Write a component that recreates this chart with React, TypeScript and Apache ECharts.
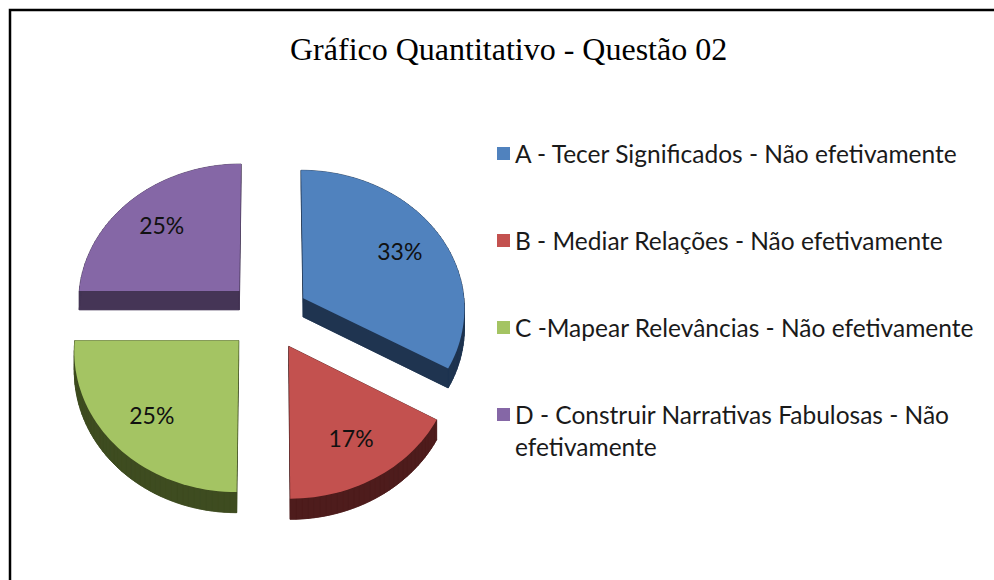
import React, { useEffect, useRef } from 'react';
import * as echarts from 'echarts';

// ---- data ----
const categories: string[] = [
  'A - Tecer Significados - Não efetivamente',
  'B - Mediar Relações - Não efetivamente',
  'C -Mapear Relevâncias - Não efetivamente',
  'D - Construir Narrativas Fabulosas - Não efetivamente',
];
const values: number[] = [4, 2, 3, 3];
const titleText = 'Gráfico Quantitativo - Questão 02';

// ---- styles ----
const topColors = ['#5082be', '#c3514f', '#a4c463', '#8567a6'];
const sideColors = ['#1f3450', '#4e1c1c', '#3e4c20', '#453556'];
const FONT = 'Lato, "Open Sans", sans-serif';

// ---- 3D pie geometry ----
const CX = 268;
const CY = 315.5;
const R = 162;
const K = 0.854;
const P = 0.0004;
const EXPLODE = 41;
const DEPTH = 19;
const LABEL_R = 116;

function project(u: number, v: number): [number, number, number] {
  const s = 1 / (1 + v * P);
  return [CX + u * s, CY - K * v * s, s];
}

const total = values.reduce((a, b) => a + b, 0);
const starts: number[] = [];
{
  let acc = 0;
  for (const v of values) {
    starts.push(acc);
    acc += v;
  }
}

function makeRenderItem(idx: number) {
  return (_params: any, api: any) => {
    const val = api.value(0) as number;
    const a0 = (starts[idx] / total) * Math.PI * 2;
    const a1 = a0 + (val / total) * Math.PI * 2;
    const mid = (a0 + a1) / 2;
    const ou = EXPLODE * Math.sin(mid);
    const ov = EXPLODE * Math.cos(mid);
    const pts3: [number, number][] = [[ou, ov]];
    const n = Math.max(8, Math.ceil(((a1 - a0) * 180) / Math.PI / 2));
    for (let j = 0; j <= n; j++) {
      const t = a0 + ((a1 - a0) * j) / n;
      pts3.push([ou + R * Math.sin(t), ov + R * Math.cos(t)]);
    }
    const top = pts3.map(([u, v]) => project(u, v));
    const bot = top.map(([x, y, s]) => [x, y + DEPTH * s]);
    const children: any[] = [];
    children.push({
      type: 'polygon',
      shape: { points: bot.map((p) => [p[0], p[1]]) },
      style: { fill: sideColors[idx], stroke: sideColors[idx], lineWidth: 0.6 },
      silent: true,
    });
    for (let j = 0; j < top.length; j++) {
      const k2 = (j + 1) % top.length;
      children.push({
        type: 'polygon',
        shape: {
          points: [
            [top[j][0], top[j][1]],
            [top[k2][0], top[k2][1]],
            [bot[k2][0], bot[k2][1]],
            [bot[j][0], bot[j][1]],
          ],
        },
        style: { fill: sideColors[idx], stroke: sideColors[idx], lineWidth: 0.6 },
        silent: true,
      });
    }
    children.push({
      type: 'polygon',
      shape: { points: top.map((p) => [p[0], p[1]]) },
      style: { fill: topColors[idx] },
      silent: true,
    });
    const [lx, ly] = project(ou + LABEL_R * Math.sin(mid), ov + LABEL_R * Math.cos(mid));
    children.push({
      type: 'text',
      x: lx,
      y: ly,
      style: {
        text: Math.round((val / total) * 100) + '%',
        fill: '#111111',
        fontSize: 23,
        fontFamily: FONT,
        align: 'center',
        verticalAlign: 'middle',
      },
      silent: true,
    });
    return { type: 'group', children };
  };
}

export default function App() {
  const ref = useRef<HTMLDivElement>(null);
  useEffect(() => {
    if (!ref.current) return;
    const chart = echarts.init(ref.current, undefined, { renderer: 'svg' });
    const legendText = { fontFamily: FONT, fontSize: 24.5, color: '#1a1a1a', lineHeight: 32 };
    chart.setOption({
      animation: false,
      backgroundColor: '#ffffff',
      title: {
        text: titleText,
        left: 290,
        top: 33,
        padding: 0,
        textStyle: {
          fontFamily: '"Liberation Serif", "Times New Roman", serif',
          fontSize: 32,
          fontWeight: 'normal',
          color: '#000000',
        },
      },
      legend: [
        {
          data: categories.slice(0, 3),
          orient: 'vertical',
          left: 497,
          top: 137.5,
          padding: 0,
          itemGap: 55,
          itemWidth: 13,
          itemHeight: 13,
          icon: 'rect',
          selectedMode: false,
          textStyle: legendText,
        },
        {
          data: categories.slice(3),
          orient: 'vertical',
          left: 497,
          top: 366.5,
          padding: 0,
          itemWidth: 13,
          itemHeight: 13,
          icon: 'rect',
          selectedMode: false,
          formatter: () =>
            '{e| }\n{t|D - Construir Narrativas Fabulosas - Não}\n{t|efetivamente}',
          textStyle: {
            ...legendText,
            rich: {
              e: { fontFamily: FONT, fontSize: 24.5, lineHeight: 32 },
              t: { fontFamily: FONT, fontSize: 24.5, lineHeight: 32, color: '#1a1a1a' },
            },
          },
        },
      ],
      graphic: [
        {
          type: 'rect',
          shape: { x: 10, y: 10, width: 1100, height: 700 },
          style: { fill: 'none', stroke: '#000000', lineWidth: 2.5 },
          silent: true,
          z: 100,
        },
      ],
      series: categories.map((name, i) => ({
        type: 'custom',
        name,
        coordinateSystem: 'none',
        itemStyle: { color: topColors[i] },
        renderItem: makeRenderItem(i),
        data: [values[i]],
      })),
    });
    return () => chart.dispose();
  }, []);
  return (
    <div
      ref={ref}
      style={{ position: 'fixed', left: 0, top: 0, width: 994, height: 580, background: '#fff' }}
    />
  );
}
